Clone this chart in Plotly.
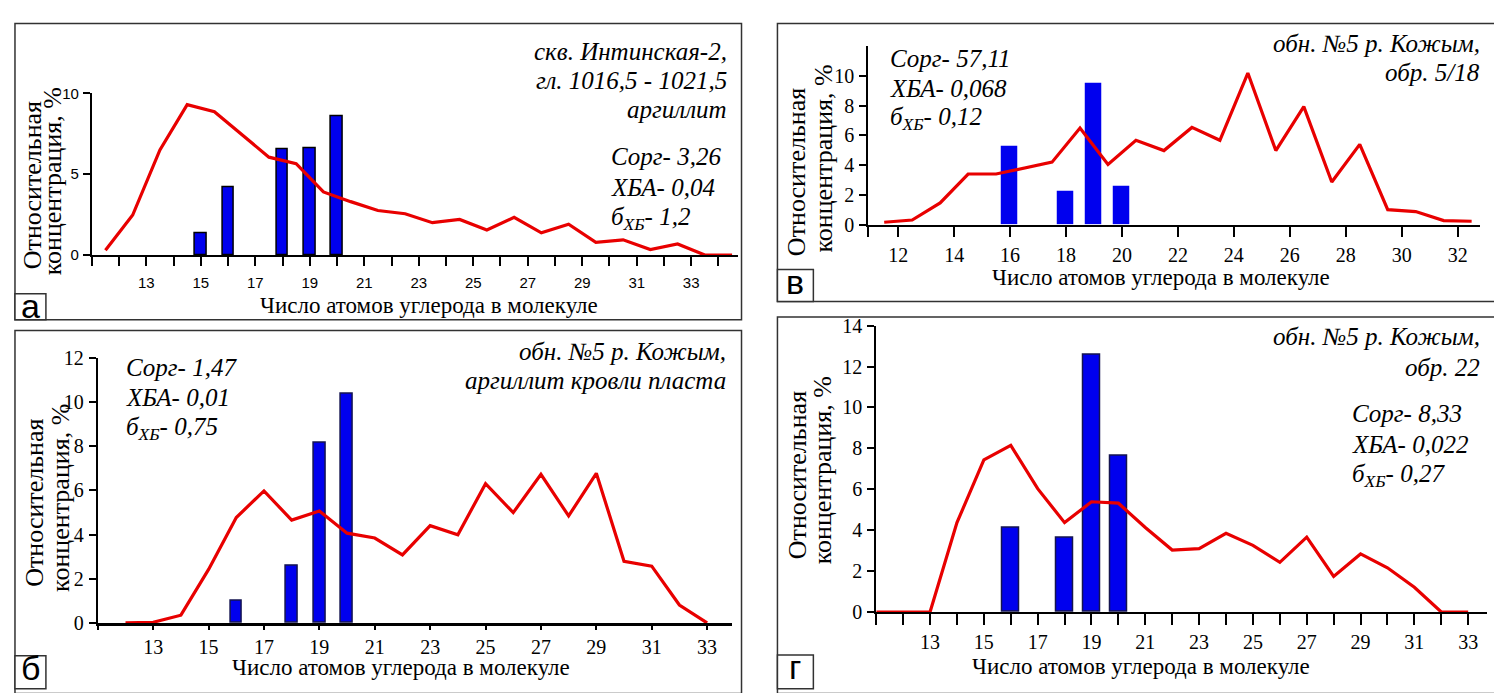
import plotly.graph_objects as go

W, H = 1494, 693

# ---------------- data ----------------
# panel а
a_bar_x = [15, 16, 18, 19, 20]
a_bar_y = [1.37, 4.16, 6.51, 6.61, 8.59]
a_line_x = [11.5, 12.5, 13.5, 14.5, 15.5, 16.5, 17.5, 18.5, 19.5, 20.5, 21.5, 22.5,
            23.5, 24.5, 25.5, 26.5, 27.5, 28.5, 29.5, 30.5, 31.5, 32.5, 33.5, 34.5]
a_line_y = [0.3, 2.47, 6.5, 9.3, 8.86, 7.45, 6.05, 5.65, 3.9, 3.3, 2.75, 2.55,
            2.0, 2.2, 1.55, 2.33, 1.37, 1.9, 0.78, 0.94, 0.34, 0.68, 0.0, 0.0]
# panel в
v_bar_x = [16, 18, 19, 20]
v_bar_y = [5.2, 2.2, 9.46, 2.47]
v_line_x = [11.5, 12.5, 13.5, 14.5, 15.5, 16.5, 17.5, 18.5, 19.5, 20.5, 21.5,
            22.5, 23.5, 24.5, 25.5, 26.5, 27.5, 28.5, 29.5, 30.5, 31.5, 32.5]
v_line_y = [0.15, 0.3, 1.45, 3.4, 3.4, 3.8, 4.2, 6.5, 4.05, 5.67, 4.98,
            6.54, 5.67, 10.2, 4.98, 7.94, 2.86, 5.4, 1.0, 0.87, 0.26, 0.22]
# panel б
b_bar_x = [16, 18, 19, 20]
b_bar_y = [1.0, 2.57, 8.17, 10.37]
b_line_x = [12, 13, 14, 15, 16, 17, 18, 19, 20, 21, 22, 23, 24, 25, 26, 27, 28,
            29, 30, 31, 32, 33]
b_line_y = [0.0, 0.03, 0.35, 2.42, 4.77, 5.97, 4.65, 5.06, 4.06, 3.84, 3.08, 4.4,
            3.99, 6.3, 4.99, 6.72, 4.84, 6.77, 2.79, 2.57, 0.81, 0.0]
# panel г
g_bar_x = [16, 18, 19, 20]
g_bar_y = [4.13, 3.61, 12.6, 7.65]
g_line_x = [11, 12, 13, 14, 15, 16, 17, 18, 19, 20, 21, 22, 23, 24, 25, 26, 27,
            28, 29, 30, 31, 32, 33]
g_line_y = [0, 0, 0, 4.37, 7.44, 8.15, 6.03, 4.37, 5.39, 5.32, 4.13, 3.03, 3.1,
            3.85, 3.26, 2.43, 3.66, 1.74, 2.84, 2.16, 1.21, 0, 0]

# tick labels
a_x_ticks = list(range(11, 35))
a_x_labels = ["13", "15", "17", "19", "21", "23", "25", "27", "29", "31", "33"]
v_x_ticks = [10.93, 12, 14, 16, 18, 20, 22, 24, 26, 28, 30, 32]
v_x_labels = ["", "12", "14", "16", "18", "20", "22", "24", "26", "28", "30", "32"]
b_x_ticks = [11, 13, 15, 17, 19, 21, 23, 25, 27, 29, 31, 33]
b_x_labels = ["13", "15", "17", "19", "21", "23", "25", "27", "29", "31", "33"]
g_x_ticks = list(range(11, 34))
g_x_labels = ["13", "15", "17", "19", "21", "23", "25", "27", "29", "31", "33"]

x_title = "Число атомов углерода в молекуле"
y_title_1 = "Относительная"
y_title_2 = "концентрация, %"

RED = "rgb(232,0,0)"
BLUE = "rgb(0,0,238)"
SERIF = "Liberation Serif"
SANS = "Liberation Sans"


def fx(px):
    return px / W


def fy(py):
    return 1 - py / H


fig = go.Figure()
annotations = []
shapes = []


def lbl(ticks, shown):
    return [str(t) if str(t) in shown else " " for t in ticks]


def add_panel(idx, bx, by, bw, bline_color, lx, ly, xdom, xrange, ydom, yrange,
              xtickvals, xticktext, ytickvals, tickfont, xticklen, xlinew, xstand):
    xa = "x" if idx == 1 else f"x{idx}"
    ya = "y" if idx == 1 else f"y{idx}"
    fig.add_trace(go.Bar(x=bx, y=by, width=bw, xaxis=xa, yaxis=ya,
                         marker=dict(color=BLUE, line=dict(color=bline_color, width=1.5)),
                         showlegend=False))
    fig.add_trace(go.Scatter(x=lx, y=ly, mode="lines", xaxis=xa, yaxis=ya,
                             line=dict(color=RED, width=3.2), showlegend=False))
    xkey = "xaxis" if idx == 1 else f"xaxis{idx}"
    ykey = "yaxis" if idx == 1 else f"yaxis{idx}"
    fig.update_layout(**{
        xkey: dict(domain=[fx(xdom[0]), fx(xdom[1])], range=xrange, anchor=ya,
                   tickmode="array", tickvals=xtickvals, ticktext=xticktext,
                   showline=True, linecolor="black", linewidth=xlinew,
                   ticks="outside", ticklen=xticklen, tickwidth=2, tickcolor="black",
                   showgrid=False, zeroline=False, tickfont=tickfont,
                   ticklabelstandoff=xstand, fixedrange=True),
        ykey: dict(domain=[fy(ydom[1]), fy(ydom[0])], range=yrange, anchor=xa,
                   tickmode="array", tickvals=ytickvals,
                   showline=True, linecolor="black", linewidth=2,
                   ticks="outside", ticklen=7, tickwidth=1.5, tickcolor="black",
                   showgrid=False, zeroline=False, tickfont=tickfont,
                   ticklabelstandoff=1, fixedrange=True),
    })


# panel а
add_panel(1, a_bar_x, a_bar_y, 0.42, "black", a_line_x, a_line_y,
          (89, 736), [11, 34.7], (85, 252), [0, 10],
          a_x_ticks, lbl(a_x_ticks, a_x_labels), [0, 5, 10],
          dict(family=SANS, size=15, color="black"), 9, 2, 4)
# panel в
add_panel(2, v_bar_x, v_bar_y, 0.54, BLUE, v_line_x, v_line_y,
          (867, 1480), [10.93, 32.8], (36.5, 220.5), [0, 12],
          v_x_ticks, v_x_labels, [0, 2, 4, 6, 8, 10],
          dict(family=SERIF, size=20, color="black"), 10, 2, 1)
# panel б
add_panel(3, b_bar_x, b_bar_y, 0.43, "rgb(20,20,80)", b_line_x, b_line_y,
          (95, 730.5), [11, 33.9], (358, 632), [0, 12],
          b_x_ticks, lbl(b_x_ticks, b_x_labels), [0, 2, 4, 6, 8, 10, 12],
          dict(family=SERIF, size=20, color="black"), 4, 2.5, 0)
# panel г
add_panel(4, g_bar_x, g_bar_y, 0.62, "rgb(20,20,80)", g_line_x, g_line_y,
          (875, 1487), [11, 33.7], (325, 620.7), [0, 14],
          g_x_ticks, lbl(g_x_ticks, g_x_labels), [0, 2, 4, 6, 8, 10, 12, 14],
          dict(family=SERIF, size=20, color="black"), 11, 2, 0)


def txt(x, y, s, xanchor="center", size=24, family=SERIF, angle=0, yanchor="middle"):
    annotations.append(dict(x=fx(x), y=fy(y), xref="paper", yref="paper", text=s,
                            showarrow=False, xanchor=xanchor, yanchor=yanchor,
                            textangle=angle, font=dict(family=family, size=size, color="black")))


# frames
frames = [(12, 13, 740, 319), (12, 330, 740, 705), (776, 13, 1505, 300), (776, 316, 1505, 705)]
for x0, y0, x1, y1 in frames:
    shapes.append(dict(type="rect", xref="paper", yref="paper", x0=fx(x0), x1=fx(x1),
                       y0=fy(y1), y1=fy(y0), line=dict(color="rgb(50,50,50)", width=1.5),
                       fillcolor="rgba(0,0,0,0)", layer="below"))

# panel letter boxes
boxes = [("а", 12, 292, 43, 319), ("б", 12, 666, 43, 700), ("в", 776, 267, 812, 300),
         ("г", 776, 665, 812, 700)]
for letter, x0, y0, x1, y1 in boxes:
    shapes.append(dict(type="rect", xref="paper", yref="paper", x0=fx(x0), x1=fx(x1),
                       y0=fy(y1), y1=fy(y0), line=dict(color="rgb(50,50,50)", width=1.5),
                       fillcolor="white", layer="below"))
    txt((x0 + x1) / 2, y0 + 13, letter, size=34, family=SANS)

# x titles
txt(427, 304, x_title, size=23)
txt(1160, 275, x_title, size=23)
txt(399, 678, x_title, size=23)
txt(1140, 677, x_title, size=23)

# y titles (two rotated lines each)
for (x1_, y1_), (x2_, y2_) in [((29, 180), (50, 176)), ((795, 166), (822, 152)),
                               ((32, 508), (57, 503)), ((796, 479), (822, 474))]:
    txt(x1_, y1_, y_title_1, size=26, angle=-90)
    txt(x2_, y2_, y_title_2, size=26, angle=-90)

# panel а texts
txt(727, 42, "<i>скв. Интинская-2,</i>", xanchor="right", size=25)
txt(727, 72, "<i>гл. 1016,5 - 1021,5</i>", xanchor="right", size=25)
txt(727, 102, "<i>аргиллит</i>", xanchor="right", size=25)
txt(607, 150, "<i>Сорг- 3,26</i>", xanchor="left", size=25)
txt(607, 182, "<i>ХБА- 0,04</i>", xanchor="left", size=25)
txt(607, 214, "<i>б<sub>ХБ</sub>- 1,2</i>", xanchor="left", size=25)

# panel в texts
txt(887, 49, "<i>Сорг- 57,11</i>", xanchor="left", size=25)
txt(887, 80, "<i>ХБА- 0,068</i>", xanchor="left", size=25)
txt(887, 111, "<i>б<sub>ХБ</sub>- 0,12</i>", xanchor="left", size=25)
txt(1482, 34, "<i>обн. №5 р. Кожым,</i>", xanchor="right", size=25)
txt(1482, 64, "<i>обр. 5/18</i>", xanchor="right", size=25)

# panel б texts
txt(121, 368, "<i>Сорг- 1,47</i>", xanchor="left", size=25)
txt(121, 399, "<i>ХБА- 0,01</i>", xanchor="left", size=25)
txt(121, 431, "<i>б<sub>ХБ</sub>- 0,75</i>", xanchor="left", size=25)
txt(726, 352, "<i>обн. №5 р. Кожым,</i>", xanchor="right", size=25)
txt(726, 382, "<i>аргиллит кровли пласта</i>", xanchor="right", size=25)

# panel г texts
txt(1482, 336, "<i>обн. №5 р. Кожым,</i>", xanchor="right", size=25)
txt(1482, 368, "<i>обр. 22</i>", xanchor="right", size=25)
txt(1350, 416, "<i>Сорг- 8,33</i>", xanchor="left", size=25)
txt(1350, 448, "<i>ХБА- 0,022</i>", xanchor="left", size=25)
txt(1350, 480, "<i>б<sub>ХБ</sub>- 0,27</i>", xanchor="left", size=25)

fig.update_layout(width=W, height=H, margin=dict(l=0, r=0, t=0, b=0),
                  paper_bgcolor="white", plot_bgcolor="rgba(0,0,0,0)",
                  annotations=annotations, shapes=shapes, bargap=0,
                  showlegend=False, font=dict(family=SERIF))

fig.write_html("out.html", config={"displayModeBar": False},
               post_script="document.body.style.margin='0';document.body.style.overflow='hidden';")
